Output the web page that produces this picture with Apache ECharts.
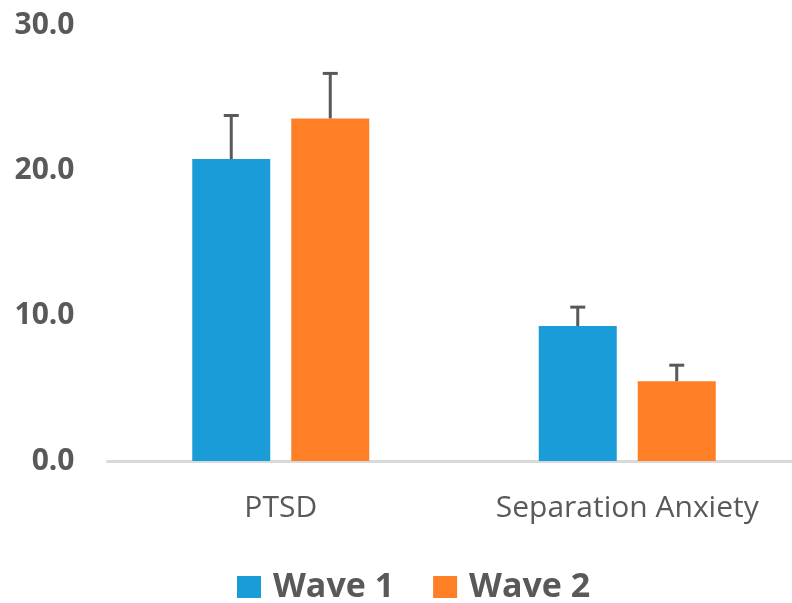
<!DOCTYPE html>
<html>
<head>
<meta charset="utf-8">
<script src="https://cdn.jsdelivr.net/npm/echarts@6/dist/echarts.min.js"></script>
<style>html,body{margin:0;padding:0;background:#fff}#c{width:792px;height:603px}</style>
</head>
<body>
<div id="c"></div>
<script>
var categories = ['PTSD', 'Separation Anxiety'];
var wave1 = [20.8, 9.3];
var wave2 = [23.6, 5.5];
var wave1Err = [23.8, 10.6];
var wave2Err = [26.7, 6.6];
var yTicks = [0, 10, 20, 30];

var BAR_W = 78, BAR_GAP = 21;
var chart = echarts.init(document.getElementById('c'));

function errSeries(name, tops, vals, sign) {
  return {
    type: 'custom',
    name: name + ' err',
    z: 5,
    data: categories.map(function (c, i) { return [i, vals[i], tops[i]]; }),
    renderItem: function (params, api) {
      var base = api.coord([api.value(0), api.value(1)]);
      var top = api.coord([api.value(0), api.value(2)]);
      var x = base[0] + sign * (BAR_W + BAR_GAP) / 2;
      var st = { stroke: '#595959', lineWidth: 3 };
      return {
        type: 'group',
        children: [
          { type: 'line', shape: { x1: x, y1: base[1], x2: x, y2: top[1] }, style: st },
          { type: 'line', shape: { x1: x - 7.5, y1: top[1], x2: x + 7.5, y2: top[1] }, style: st }
        ]
      };
    },
    tooltip: { show: false }
  };
}

chart.setOption({
  animation: false,
  grid: { left: 107.5, top: 25.5, width: 693, height: 435.5, outerBoundsMode: 'none', containLabel: false },
  legend: {
    data: ['Wave 1', 'Wave 2'],
    top: 565,
    left: 232,
    icon: 'rect',
    itemWidth: 24,
    itemHeight: 22,
    itemGap: 39,
    textStyle: { fontSize: 34, fontWeight: 'bold', color: '#595959', fontFamily: 'Open Sans', padding: [0, 0, 0, 7] }
  },
  xAxis: {
    type: 'category',
    data: categories,
    axisLine: { lineStyle: { color: '#d9d9d9', width: 3 } },
    axisTick: { show: false },
    axisLabel: {
      margin: 32,
      fontSize: 30,
      color: '#595959',
      fontFamily: 'Open Sans'
    }
  },
  yAxis: {
    type: 'value',
    min: yTicks[0],
    max: yTicks[yTicks.length - 1],
    interval: 10,
    axisLine: { show: false },
    axisTick: { show: false },
    splitLine: { show: false },
    axisLabel: {
      margin: 33,
      fontSize: 30,
      fontWeight: 'bold',
      color: '#595959',
      fontFamily: 'Open Sans',
      formatter: function (v) { return v.toFixed(1); }
    }
  },
  series: [
    { name: 'Wave 1', type: 'bar', data: wave1, barWidth: BAR_W, barGap: (BAR_GAP / BAR_W * 100) + '%', itemStyle: { color: '#1a9cd8' } },
    { name: 'Wave 2', type: 'bar', data: wave2, barWidth: BAR_W, itemStyle: { color: '#fe7f26' } },
    errSeries('Wave 1', wave1Err, wave1, -1),
    errSeries('Wave 2', wave2Err, wave2, 1)
  ]
});
</script>
</body>
</html>
